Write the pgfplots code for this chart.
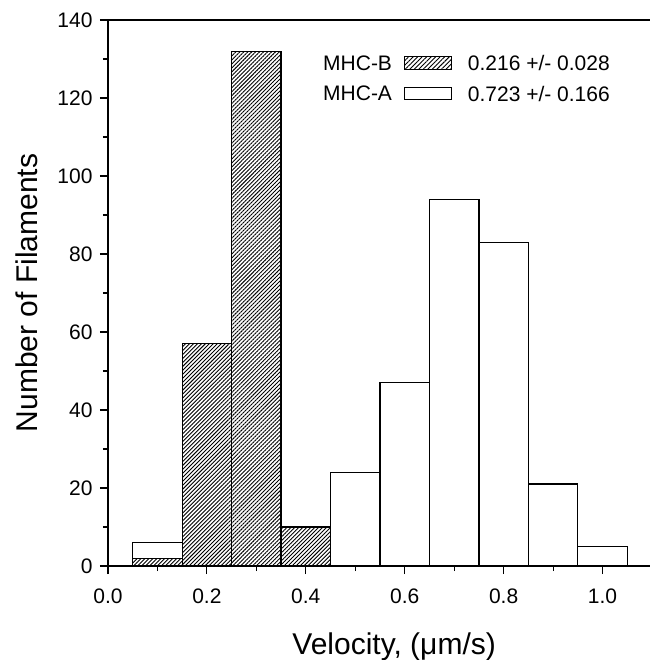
\documentclass[border=0pt]{standalone}
\usepackage{pgfplots}
\pgfplotsset{compat=1.18}
\usetikzlibrary{patterns.meta}
\usepackage{fontspec}
\setmainfont{Liberation Sans}
\begin{document}
\begin{tikzpicture}
\begin{axis}[
  scale only axis, width=544pt, height=546pt,
  xmin=0, xmax=1.1, ymin=0, ymax=140,
  axis line style={line width=1.3pt},
  xtick={0,0.2,...,1.0}, minor xtick={0.1,0.3,...,1.1},
  ytick={0,20,...,140}, minor ytick={10,30,...,130},
  xtick pos=bottom, ytick pos=left,
  tick align=outside,
  major tick length=8pt, minor tick length=5pt,
  every tick/.style={black, line width=1.1pt},
  xticklabel style={/pgf/number format/fixed, /pgf/number format/fixed zerofill, /pgf/number format/precision=1, yshift=-11pt},
  yticklabel style={xshift=-4pt},
  /pgf/number format/assume math mode=true,
  tick label style={font=\fontsize{21}{21}\selectfont},
  xlabel={Velocity, (μm/s)}, ylabel={Number of Filaments},
  label style={font=\fontsize{30}{30}\selectfont},
  xlabel style={at={(axis description cs:0.526,-0.148)}, anchor=center},
  ylabel style={at={(axis description cs:-0.15,0.5)}, anchor=center},
  legend style={draw=none, fill=none, at={(rel axis cs:0.386,0.943)}, anchor=north west,
     font=\fontsize{21}{21}\selectfont, row sep=10pt},
  legend columns=2, legend plot pos=right,
  legend cell align=left,
  legend image code/.code={\draw[#1] (0pt,-5.5pt) rectangle (47pt,7pt);},
]
\addlegendimage{draw=black, line width=0.8pt, pattern={Lines[angle=45,distance=3.2pt,line width=0.9pt]}}
\addlegendentry{MHC-B\kern10pt}
\addlegendimage{empty legend}
\addlegendentry{\kern14pt 0.216 +/- 0.028}
\addlegendimage{draw=black, line width=0.8pt, fill=white}
\addlegendentry{MHC-A\kern10pt}
\addlegendimage{empty legend}
\addlegendentry{\kern14pt 0.723 +/- 0.166}

\addplot[forget plot, ybar, bar width=0.1, bar shift=0pt, draw=black, line width=1.2pt, fill=white]
  coordinates {(0.1,6) (0.5,24) (0.6,47) (0.7,94) (0.8,83) (0.9,21) (1.0,5)};
\addplot[forget plot, ybar, bar width=0.1, bar shift=0pt, draw=black, line width=1.2pt,
  pattern={Lines[angle=45,distance=2.8pt,line width=0.9pt]}]
  coordinates {(0.1,2) (0.2,57) (0.3,132) (0.4,10)};
\coordinate (tl) at (rel axis cs:0,1);
\end{axis}
\pgfresetboundingbox
\path (tl) ++(-108pt,20pt) rectangle ++(649pt,-660pt);
\end{tikzpicture}
\end{document}
